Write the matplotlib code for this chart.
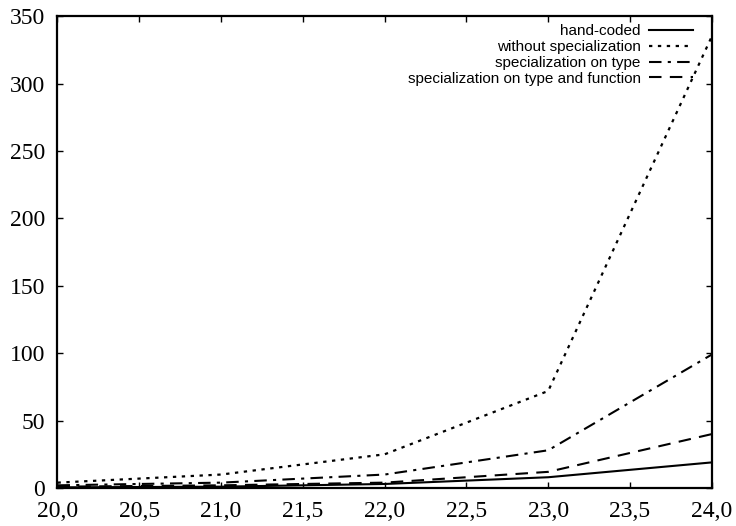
import matplotlib
matplotlib.use("Agg")
import matplotlib.pyplot as plt

sizes = [20, 21, 22, 23, 24]
hand_coded = [0.5, 1, 3, 8, 19]
without_spec = [4, 10, 25, 72, 335]
spec_type = [2, 4, 10, 28, 99]
spec_type_func = [1, 2, 4, 12, 40]

labels = ["hand-coded", "without specialization",
          "specialization on type", "specialization on type and function"]
xticks = [20.0, 20.5, 21.0, 21.5, 22.0, 22.5, 23.0, 23.5, 24.0]

fig = plt.figure(figsize=(7.36, 5.26), dpi=100)
ax = fig.add_axes([0.0781, 0.0722, 0.889, 0.897])

ax.plot(sizes, hand_coded, color="black", lw=1.5, ls="-", label=labels[0])
ax.plot(sizes, without_spec, color="black", lw=1.6, ls=(0, (1.5, 2.5)), label=labels[1])
ax.plot(sizes, spec_type, color="black", lw=1.5, ls=(0, (6, 3, 1.5, 3)), label=labels[2])
ax.plot(sizes, spec_type_func, color="black", lw=1.5, ls=(0, (6, 4)), label=labels[3])

ax.set_xlim(20, 24)
ax.set_ylim(0, 350)
ax.set_xticks(xticks)
ax.set_xticklabels([("%.1f" % t).replace(".", ",") for t in xticks])
ax.set_yticks(range(0, 351, 50))
ax.tick_params(direction="in", top=True, right=True, length=4.5, width=1,
               labelsize=17)
ax.tick_params(axis="x", pad=9)
ax.tick_params(axis="y", pad=9)
for lab in ax.get_xticklabels() + ax.get_yticklabels():
    lab.set_family("Liberation Serif")
for sp in ax.spines.values():
    sp.set_linewidth(1.6)

leg = ax.legend(loc="upper right", bbox_to_anchor=(0.971, 0.983), frameon=False,
                markerfirst=False, handlelength=2.9, handletextpad=0.5,
                labelspacing=0.12, borderaxespad=0, borderpad=0,
                prop={"family": "Liberation Sans", "size": 11})

fig.savefig("out.png", dpi=100)
